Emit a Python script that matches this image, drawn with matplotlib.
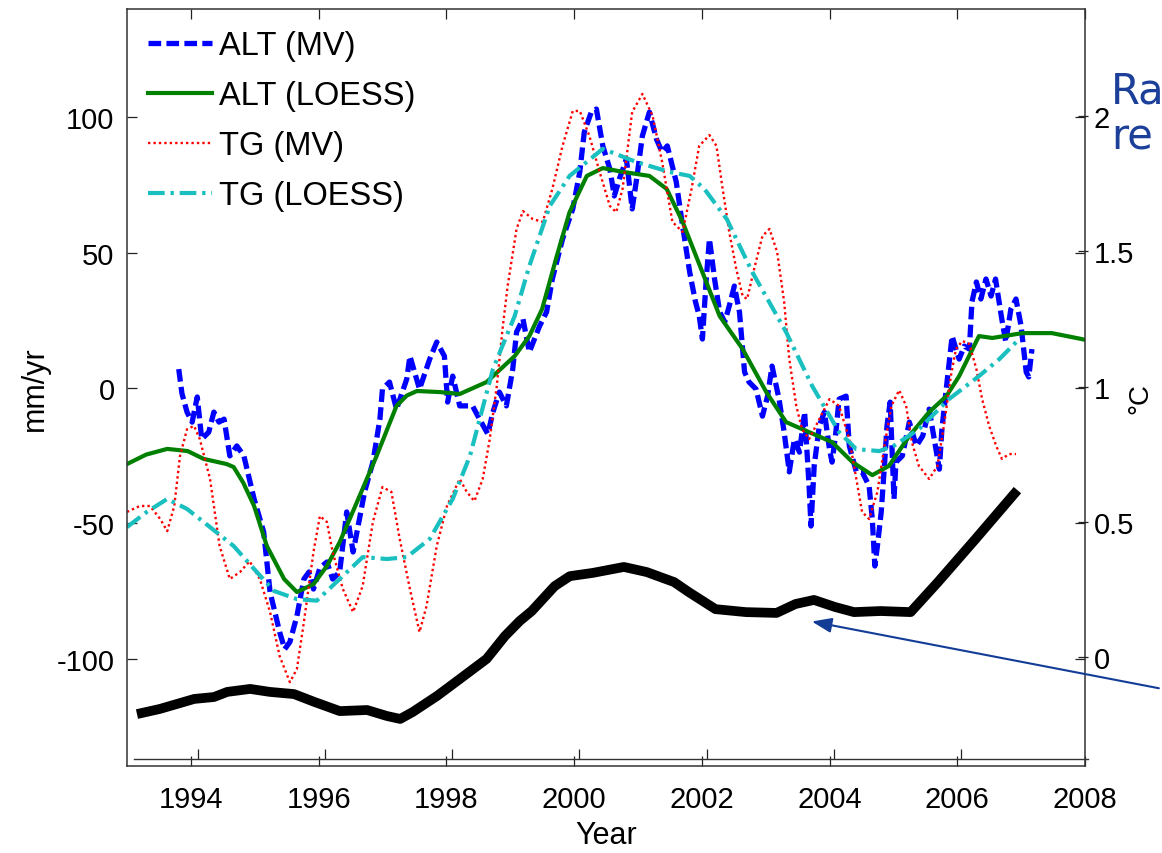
import matplotlib
matplotlib.use("Agg")
import matplotlib.pyplot as plt
import numpy as np

plt.rcParams['font.family'] = ['Liberation Sans', 'DejaVu Sans']
plt.rcParams['axes.unicode_minus'] = False

# altimetry rate, moving-value series (mm/yr)
alt_mv_yr = np.array([
    1993.81, 1993.86, 1993.94, 1994.02, 1994.10, 1994.17, 1994.28, 1994.36, 1994.44, 1994.52,
    1994.61, 1994.72, 1994.83, 1994.99, 1995.14, 1995.24, 1995.39, 1995.47, 1995.55, 1995.66,
    1995.77, 1995.85, 1995.92, 1996.02, 1996.13, 1996.22, 1996.33, 1996.44, 1996.54, 1996.64,
    1996.72, 1996.85, 1996.96, 1997.00, 1997.11, 1997.22, 1997.38, 1997.43, 1997.58, 1997.74,
    1997.85, 1997.97, 1998.02, 1998.10, 1998.21, 1998.41, 1998.52, 1998.65, 1998.73, 1998.83,
    1998.94, 1999.04, 1999.10, 1999.20, 1999.30, 1999.46, 1999.57, 1999.66, 1999.82, 1999.98,
    2000.09, 2000.16, 2000.27, 2000.35, 2000.45, 2000.56, 2000.63, 2000.71, 2000.82, 2000.91,
    2000.98, 2001.07, 2001.18, 2001.29, 2001.38, 2001.46, 2001.60, 2001.70, 2001.81, 2001.90,
    2001.96, 2002.01, 2002.07, 2002.12, 2002.20, 2002.28, 2002.36, 2002.43, 2002.51, 2002.59,
    2002.67, 2002.74, 2002.85, 2002.95, 2003.03, 2003.10, 2003.21, 2003.29, 2003.37, 2003.45,
    2003.53, 2003.61, 2003.68, 2003.71, 2003.76, 2003.84, 2003.92, 2004.00, 2004.04, 2004.10,
    2004.15, 2004.26, 2004.31, 2004.42, 2004.51, 2004.62, 2004.67, 2004.71, 2004.75, 2004.81,
    2004.86, 2004.90, 2004.95, 2005.01, 2005.04, 2005.14, 2005.25, 2005.36, 2005.46, 2005.56,
    2005.64, 2005.72, 2005.76, 2005.84, 2005.92, 2005.98, 2006.03, 2006.11, 2006.19, 2006.23,
    2006.30, 2006.37, 2006.45, 2006.53, 2006.60, 2006.69, 2006.76, 2006.84, 2006.92, 2007.00,
    2007.08, 2007.12, 2007.17])
alt_mv = np.array([
    7.0, -2.0, -8.9, -12.6, -3.3, -18.9, -16.3, -8.9, -12.6, -11.5,
    -25.1, -21.4, -25.1, -41.0, -53.2, -75.4, -90.2, -96.5, -93.9, -84.3,
    -70.6, -68.0, -74.3, -66.5, -64.3, -70.6, -68.0, -45.8, -60.6, -48.4,
    -38.4, -27.4, -11.5, -0.4, 2.2, -7.8, 3.3, 11.8, -0.4, 10.7,
    17.0, 11.8, -5.2, 4.4, -6.6, -6.6, -11.5, -17.0, -8.9, -1.5,
    -6.6, 7.0, 20.7, 25.5, 13.3, 22.9, 28.1, 40.3, 55.1, 66.2,
    79.9, 94.6, 102.0, 103.1, 89.5, 81.0, 71.0, 77.3, 84.7, 66.2,
    77.3, 93.2, 102.0, 92.0, 87.2, 89.5, 76.2, 59.9, 42.9, 32.0,
    26.6, 18.1, 40.3, 55.1, 40.3, 28.1, 24.4, 30.3, 37.7, 28.1,
    5.9, 2.2, -0.4, -10.4, -3.0, 8.1, -4.1, -16.3, -31.0, -18.9,
    -23.7, -8.9, -36.2, -51.0, -28.8, -14.0, -8.9, -22.6, -27.4, -16.3,
    -4.1, -3.0, -21.4, -31.0, -31.0, -36.2, -48.4, -65.8, -58.4, -45.8,
    -28.8, -14.0, -5.2, -41.0, -27.4, -25.1, -12.6, -21.4, -17.7, -7.8,
    -18.9, -30.0, -15.2, 2.2, 19.2, 14.4, 10.7, 15.5, 14.4, 31.8,
    39.2, 32.9, 40.3, 34.0, 40.3, 26.6, 17.0, 29.2, 32.9, 22.9,
    5.9, 4.1, 14.4])

# altimetry rate, LOESS fit
alt_lo_yr = np.array([
    1993.00, 1993.30, 1993.63, 1993.95, 1994.20, 1994.56, 1994.67, 1994.82, 1994.99, 1995.19,
    1995.46, 1995.66, 1995.92, 1996.13, 1996.33, 1996.64, 1996.91, 1997.22, 1997.38, 1997.54,
    1997.90, 1998.21, 1998.63, 1999.07, 1999.30, 1999.50, 1999.73, 1999.93, 2000.20, 2000.45,
    2000.76, 2001.18, 2001.45, 2001.70, 2002.04, 2002.28, 2002.64, 2003.01, 2003.32, 2003.68,
    2004.04, 2004.36, 2004.67, 2004.93, 2005.25, 2005.56, 2005.83, 2006.03, 2006.34, 2006.55,
    2007.02, 2007.48, 2007.95, 2008.00])
alt_lo = np.array([
    -28.1, -24.6, -22.5, -23.3, -26.2, -28.1, -29.2, -35.0, -43.6, -58.4,
    -70.6, -75.4, -72.5, -65.8, -57.0, -40.0, -25.0, -6.6, -2.8, -1.1,
    -1.5, -2.2, 2.2, 11.8, 19.2, 29.2, 48.8, 65.0, 78.4, 81.3,
    79.9, 78.4, 73.6, 61.4, 41.0, 26.6, 14.4, -1.5, -12.6, -16.3,
    -20.0, -27.4, -32.2, -28.8, -17.7, -8.9, -3.0, 4.4, 19.2, 18.5,
    20.3, 20.3, 18.1, 17.8])

# tide gauge rate, moving-value series
tg_mv_yr = np.array([
    1993.00, 1993.20, 1993.36, 1993.52, 1993.63, 1993.74, 1993.83, 1993.94, 1994.05, 1994.14,
    1994.30, 1994.45, 1994.61, 1994.77, 1994.92, 1995.08, 1995.24, 1995.39, 1995.55, 1995.66,
    1995.77, 1995.92, 1996.02, 1996.13, 1996.22, 1996.38, 1996.54, 1996.69, 1996.85, 1997.00,
    1997.14, 1997.27, 1997.43, 1997.58, 1997.69, 1997.85, 1998.01, 1998.21, 1998.32, 1998.44,
    1998.57, 1998.68, 1998.79, 1998.88, 1998.96, 1999.10, 1999.20, 1999.35, 1999.51, 1999.66,
    1999.82, 1999.98, 2000.09, 2000.24, 2000.40, 2000.56, 2000.66, 2000.76, 2000.91, 2001.07,
    2001.23, 2001.38, 2001.54, 2001.70, 2001.84, 2001.96, 2002.12, 2002.23, 2002.32, 2002.43,
    2002.54, 2002.64, 2002.71, 2002.82, 2002.95, 2003.06, 2003.18, 2003.29, 2003.37, 2003.48,
    2003.57, 2003.68, 2003.84, 2004.00, 2004.15, 2004.31, 2004.42, 2004.51, 2004.62, 2004.75,
    2004.86, 2004.97, 2005.09, 2005.20, 2005.29, 2005.40, 2005.56, 2005.69, 2005.80, 2005.90,
    2005.98, 2006.08, 2006.19, 2006.30, 2006.39, 2006.50, 2006.61, 2006.70, 2006.81, 2006.92])
tg_mv = np.array([
    -45.8, -43.6, -43.6, -48.4, -52.9, -43.6, -25.1, -15.2, -14.0, -18.9,
    -33.6, -58.4, -70.6, -68.0, -64.0, -70.6, -82.8, -99.1, -108.7, -103.9,
    -86.5, -60.6, -47.3, -49.5, -60.6, -74.3, -82.8, -73.2, -49.5, -36.6,
    -38.4, -55.8, -74.3, -90.2, -80.6, -58.4, -43.6, -33.6, -38.4, -41.8,
    -33.6, -18.9, 0.7, 21.8, 37.7, 58.8, 65.4, 62.5, 61.4, 73.6,
    89.5, 102.4, 102.4, 93.2, 79.9, 67.3, 65.0, 73.6, 102.0, 108.7,
    100.6, 83.5, 61.4, 57.7, 73.6, 89.5, 93.5, 89.5, 74.7, 57.7,
    44.0, 34.0, 32.9, 44.0, 56.2, 58.8, 50.3, 31.8, 10.7, -6.6,
    -15.2, -18.9, -11.5, -4.1, -6.6, -18.9, -33.6, -45.8, -48.4, -38.4,
    -21.4, -6.6, -0.8, -6.6, -20.0, -28.8, -33.6, -28.8, -12.6, 4.4,
    14.4, 17.4, 16.3, 7.0, -4.1, -14.0, -21.4, -26.2, -24.4, -24.4])

# tide gauge rate, LOESS fit
tg_lo_yr = np.array([
    1993.00, 1993.31, 1993.63, 1993.94, 1994.30, 1994.67, 1994.99, 1995.30, 1995.66, 1995.97,
    1996.33, 1996.69, 1997.07, 1997.38, 1997.74, 1998.10, 1998.37, 1998.73, 1999.07, 1999.30,
    1999.62, 1999.93, 2000.45, 2000.98, 2001.49, 2001.81, 2002.04, 2002.39, 2002.79, 2003.32,
    2003.73, 2004.15, 2004.42, 2004.78, 2005.01, 2005.40, 2005.87, 2006.34, 2006.66, 2006.97])
tg_lo = np.array([
    -51.4, -45.8, -41.0, -44.7, -51.4, -58.4, -66.9, -75.0, -78.0, -78.6,
    -70.6, -62.5, -63.2, -62.5, -55.8, -41.0, -25.1, 7.0, 26.6, 45.1,
    67.3, 78.4, 88.4, 83.5, 79.9, 78.4, 73.6, 62.5, 42.9, 20.7,
    0.7, -16.3, -22.6, -23.3, -21.3, -15.2, -4.1, 4.4, 10.7, 18.1])

# temperature anomaly (degC), right-hand scale
temp_yr = np.array([
    1993.04, 1993.40, 1993.94, 1994.25, 1994.46, 1994.82, 1995.13, 1995.51, 1995.83, 1996.23,
    1996.66, 1996.97, 1997.18, 1997.38, 1997.76, 1998.12, 1998.54, 1998.83, 1999.06, 1999.25,
    1999.61, 1999.85, 2000.21, 2000.70, 2001.06, 2001.49, 2001.72, 2002.14, 2002.62, 2003.10,
    2003.40, 2003.69, 2004.02, 2004.32, 2004.74, 2005.21, 2005.64, 2006.23, 2006.89])
temp = np.array([
    -0.211, -0.192, -0.155, -0.148, -0.129, -0.118, -0.129, -0.137, -0.166, -0.200,
    -0.196, -0.218, -0.229, -0.203, -0.144, -0.081, -0.007, 0.078, 0.133, 0.170,
    0.262, 0.299, 0.311, 0.333, 0.314, 0.277, 0.240, 0.177, 0.166, 0.163,
    0.196, 0.211, 0.185, 0.166, 0.170, 0.166, 0.277, 0.436, 0.617])

years = [1994, 1996, 1998, 2000, 2002, 2004, 2006, 2008]
left_ticks = [-100, -50, 0, 50, 100]
right_ticks = [0, 0.5, 1, 1.5, 2]
right_labels = ['0', '0.5', '1', '1.5', '2']

fig = plt.figure(figsize=(11.62, 8.54), dpi=100)
ax = fig.add_axes([0.1093, 0.1019, 0.8244, 0.8864])

ax.plot(alt_mv_yr, alt_mv, color='#0000ff', lw=3.8, dashes=(2.4, 1.0), label='ALT (MV)')
ax.plot(alt_lo_yr, alt_lo, color='#008000', lw=3.0, label='ALT (LOESS)')
ax.plot(tg_mv_yr, tg_mv, color='#ff0000', lw=1.7, dashes=(1.0, 1.3), label='TG (MV)')
ax.plot(tg_lo_yr, tg_lo, color='#1abfbf', lw=3.0, dashes=(4.0, 1.4, 0.8, 1.4), label='TG (LOESS)')

ax.set_xlim(1993, 2008)
ax.set_ylim(-139.7, 140.1)
ax.set_xticks(years)
ax.set_yticks(left_ticks)
ax.tick_params(direction='in', length=7, width=0.9, top=True, right=True,
               labelsize=21, colors='#222222', labelcolor='black')
ax.tick_params(axis='x', pad=14)
ax.tick_params(axis='y', pad=9)
for s in ax.spines.values():
    s.set_color('#333333')
    s.set_linewidth(1.1)
ax.set_xlabel('Year', fontsize=22, labelpad=5)
ax.set_ylabel('mm/yr', fontsize=22)
ax.yaxis.set_label_coords(-0.080, 0.5)

leg = ax.legend(loc='upper left', frameon=False, fontsize=23.5, handlelength=1.95,
                handletextpad=0.22, labelspacing=0.58, borderaxespad=0.2,
                borderpad=0.45)

# second axes for the temperature curve, slightly offset like the original overlay
ax2 = fig.add_axes([0.1157, 0.1101, 0.8206, 0.8782])
ax2.patch.set_alpha(0)
ax2.plot(temp_yr, temp, color='black', lw=7.0, solid_capstyle='butt')
ax2.set_xlim(1993, 2008)
ax2.set_ylim(-0.377, 2.396)
ax2.set_xticks(years[:-1])
ax2.set_yticks(right_ticks)
ax2.set_yticklabels(right_labels)
ax2.yaxis.tick_right()
ax2.tick_params(direction='in', length=7, width=0.9, labelsize=21,
                colors='#222222', labelcolor='black', labelbottom=False)
ax2.tick_params(axis='y', pad=4)
for side in ['top', 'left', 'right']:
    ax2.spines[side].set_visible(False)
ax2.spines['bottom'].set_color('#333333')
ax2.spines['bottom'].set_linewidth(1.0)

fig.text(1140 / 1162, 1 - 398 / 854, '°C', rotation=90, fontsize=20,
         ha='center', va='center')

# slide text and pointer running off the right edge
fig.text(1111 / 1162, 1 - 104 / 854, 'Ra', fontsize=30, color='#1c3f99',
         family='DejaVu Sans', ha='left', va='baseline')
fig.text(1111 / 1162, 1 - 150 / 854, 're', fontsize=30, color='#1c3f99',
         family='DejaVu Sans', ha='left', va='baseline')
ax.annotate('', xy=(2003.68, -86.1), xytext=(1.08, 0.102),
            textcoords='axes fraction', annotation_clip=False,
            arrowprops=dict(arrowstyle='-|>,head_length=1.2,head_width=0.45',
                            color='#123c96', lw=1.5))

fig.savefig('out.png', dpi=100)
